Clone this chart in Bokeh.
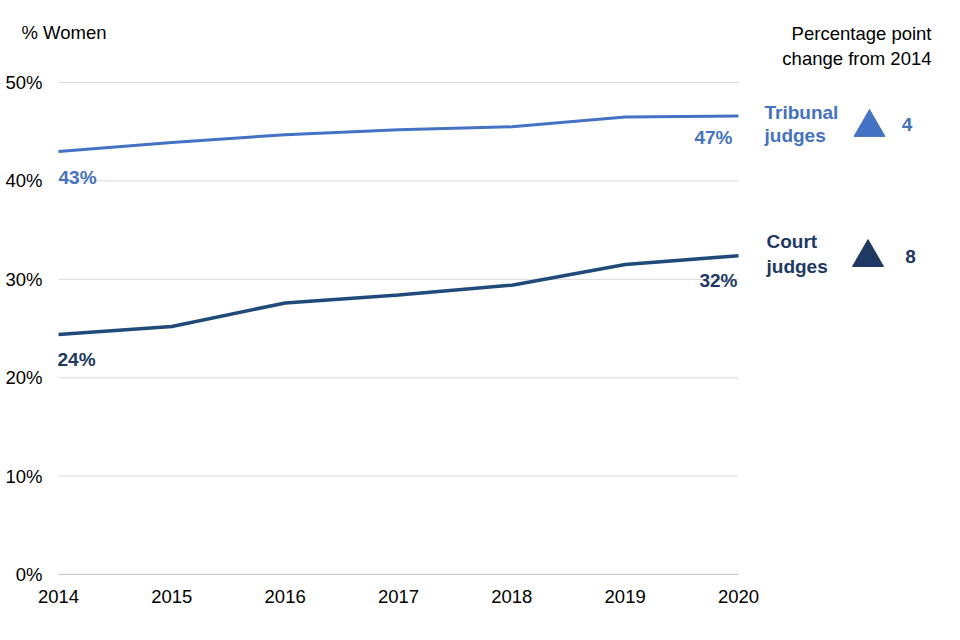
from bokeh.plotting import figure
from bokeh.models import Range1d, FixedTicker, Label
from bokeh.embed import file_html
from bokeh.resources import INLINE
from bokeh.core.properties import value

years = [2014, 2015, 2016, 2017, 2018, 2019, 2020]
tribunal = [43.0, 43.9, 44.7, 45.2, 45.5, 46.5, 46.6]
court = [24.4, 25.2, 27.6, 28.4, 29.4, 31.5, 32.4]
series_names = ["Tribunal judges", "Court judges"]
changes = [4, 8]
y_ticks = [0, 10, 20, 30, 40, 50]
y_tick_labels = ["0%", "10%", "20%", "30%", "40%", "50%"]

C_TRIB = "#4472C4"
C_COURT_LINE = "#1F4A7A"
C_COURT_TEXT = "#203864"
FONT = "Liberation Sans"
FS = "18.5px"
FSB = "19px"

W, H = 952, 630
X0_PX = 58          # pixel position of first year
Y0_PX = 574         # pixel position of 0%
BOTTOM_PAD = 12     # frame extends a little below 0% so its label is not clipped
PX_PER_YEAR = 680 / 6.0
PX_PER_PCT = 492 / 50.0
x_start = years[0] - X0_PX / PX_PER_YEAR
x_end = years[0] + (W - X0_PX) / PX_PER_YEAR
y_start = -BOTTOM_PAD / PX_PER_PCT
y_end = Y0_PX / PX_PER_PCT

p = figure(width=W, height=H, output_backend="svg", toolbar_location=None,
           x_range=Range1d(x_start, x_end), y_range=Range1d(y_start, y_end),
           min_border_left=0, min_border_right=0,
           min_border_top=0, min_border_bottom=H - Y0_PX - BOTTOM_PAD)
p.outline_line_color = None
p.xgrid.grid_line_color = None
p.ygrid.grid_line_color = None
p.yaxis.visible = False

# gridlines limited to the plotted years
n = len(y_ticks) - 1
p.segment(x0=[years[0]] * n, x1=[years[-1]] * n,
          y0=y_ticks[1:], y1=y_ticks[1:], line_color="#D9D9D9", line_width=1)
p.segment(x0=[years[0]], x1=[years[-1]], y0=[y_ticks[0]], y1=[y_ticks[0]],
          line_color="#BFBFBF", line_width=1.2)

p.line(years, tribunal, line_color=C_TRIB, line_width=3)
p.line(years, court, line_color=C_COURT_LINE, line_width=3.5)

# y tick labels
p.text(x=[years[0]] * len(y_ticks), y=y_ticks, text=y_tick_labels, x_offset=-16,
       text_font=value(FONT), text_font_size=FS, text_color="#000000",
       text_align="right", text_baseline="middle")

# x axis
ax = p.xaxis[0]
ax.axis_line_color = None
ax.major_tick_line_color = None
ax.minor_tick_line_color = None
ax.major_tick_out = 0
ax.major_tick_in = 0
ax.major_label_text_font = FONT
ax.major_label_text_font_size = FS
ax.major_label_text_color = "#000000"
ax.ticker = FixedTicker(ticks=years)
ax.major_label_standoff = 15 - BOTTOM_PAD


def lab(text, x, y, color, bold=False, align="left", xo=0, yo=0):
    p.add_layout(Label(x=x, y=y, x_offset=xo, y_offset=yo, text=text,
                       text_font=FONT, text_font_size=FSB if bold else FS,
                       text_font_style="bold" if bold else "normal",
                       text_color=color, text_align=align, text_baseline="middle"))


# value labels at start and end
lab(f"{round(tribunal[0])}%", years[0], tribunal[0], C_TRIB, True, "left", 0, -26)
lab(f"{round(tribunal[-1])}%", years[-1], tribunal[-1], C_TRIB, True, "right", -6, -21.5)
lab(f"{round(court[0])}%", years[0], court[0], C_COURT_TEXT, True, "left", -1, -25)
lab(f"{round(court[-1])}%", years[-1], court[-1], C_COURT_TEXT, True, "right", -1, -25)

# right-side legend: name, triangle, change
colors = [C_TRIB, C_COURT_TEXT]
ends = [tribunal[-1], court[-1]]
name_x = [26, 28]
name_y = [(3.5, -19.5), (14, -11)]
tri_x = [131, 129.5]
tri_y = [-11.5, -1.8]
val_x = [168.5, 172]
val_y = [-8.5, -1]
for i, name in enumerate(series_names):
    first, second = name.split(" ", 1)
    xn = years[-1] + name_x[i] / PX_PER_YEAR
    lab(first, xn, ends[i], colors[i], True, "left", 0, name_y[i][0])
    lab(second, xn, ends[i], colors[i], True, "left", 0, name_y[i][1])
    p.scatter([years[-1] + tri_x[i] / PX_PER_YEAR], [ends[i] + tri_y[i] / PX_PER_PCT],
              marker="triangle", size=31, fill_color=colors[i], line_color=colors[i])
    lab(str(changes[i]), years[-1] + val_x[i] / PX_PER_YEAR, ends[i], colors[i], True,
        "center", 0, val_y[i])

# headers
lab("% Women", years[0], y_ticks[-1], "#000000", False, "left", -37, 50)
lab("Percentage point", years[-1], y_ticks[-1], "#000000", False, "right", 193, 49)
lab("change from 2014", years[-1], y_ticks[-1], "#000000", False, "right", 193, 24)

open("out.html", "w").write(file_html(p, INLINE))
